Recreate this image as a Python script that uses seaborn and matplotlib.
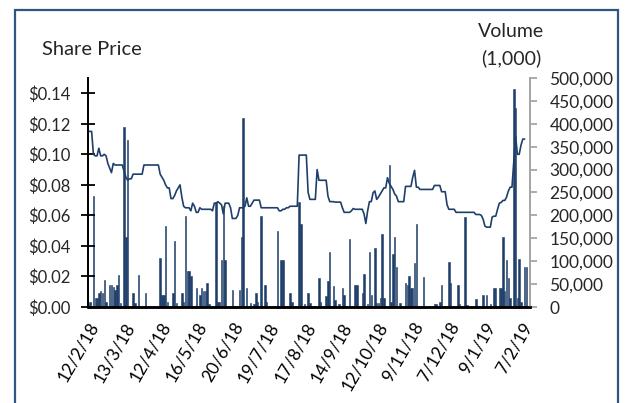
# share price and volume chart, one trading day per step on the x axis

import matplotlib
matplotlib.use('Agg')
import matplotlib.pyplot as plt
from matplotlib.patches import Rectangle
from matplotlib.ticker import FuncFormatter
import pandas as pd
import seaborn as sns

# closing share price, one value per trading day
price = [
    .115, .115, .115, .100, .099, .099, .104, .099, .099, .100,
    .099, .094, .091, .088, .094, .093, .093, .093, .093, .093,
    .089, .085, .083, .084, .084, .087, .087, .087, .087, .087,
    .087, .093, .093, .093, .093, .093, .093, .093, .093, .093,
    .087, .085, .083, .080, .078, .078, .071, .071, .073, .076,
    .078, .080, .072, .066, .065, .065, .065, .063, .068, .066,
    .062, .062, .065, .064, .064, .064, .064, .064, .064, .063,
    .068, .068, .069, .068, .067, .061, .068, .068, .068, .065,
    .058, .058, .058, .060, .065, .065, .065, .066, .0715, .066,
    .066, .068, .070, .070, .070, .070, .065, .065, .065, .065,
    .065, .065, .065, .065, .065, .065, .063, .063, .064, .064,
    .065, .065, .066, .066, .066, .066, .066, .0995, .0995, .0995,
    .0995, .0995, .075, .0705, .0705, .0705, .0705, .090, .083, .083,
    .083, .083, .083, .0726, .069, .069, .069, .0687, .0687, .0687,
    .0687, .065, .062, .062, .062, .062, .063, .0645, .064, .064,
    .064, .064, .064, .061, .0547, .063, .069, .069, .0748, .076,
    .0705, .072, .074, .076, .078, .078, .0847, .081, .079, .077,
    .074, .0726, .069, .069, .069, .069, .079, .079, .079, .079,
    .085, .0895, .0785, .0785, .077, .077, .077, .077, .077, .077,
    .077, .077, .0796, .0796, .0796, .0796, .0755, .0755, .0755, .067,
    .064, .064, .064, .064, .062, .062, .062, .062, .062, .062,
    .062, .062, .062, .062, .062, .0606, .0606, .0606, .060, .0575,
    .053, .0523, .0523, .0523, .0589, .0595, .0595, .064, .068, .0685,
    .0698, .0698, .072, .076, .0785, .0785, .095, .112, .100, .100,
    .106, .110, .110,
]

# traded volume (1,000), only the days with trades
vol_day = [
    1, 3, 4, 5, 6, 7, 8, 9, 10, 12, 13, 14, 15, 16, 17, 18, 20, 21, 22,
    25, 26, 28, 32, 40, 41, 42, 43, 44, 47, 48, 49, 52, 53, 54, 55, 56, 57,
    60, 62, 63, 64, 65, 66, 67, 71, 72, 73, 74, 75, 76, 80, 84, 85, 86,
    88, 90, 92, 93, 94, 96, 98, 99, 105, 107, 108, 112, 113, 117, 118,
    120, 122, 123, 128, 129, 132, 133, 134, 136, 137, 139, 141, 142, 145,
    148, 149, 152, 153, 155, 156, 157, 159, 160, 161, 162, 163, 164, 167,
    168, 169, 170, 171, 173, 176, 177, 178, 179, 180, 181, 182, 186, 192,
    193, 195, 196, 200, 201, 205, 206, 209, 210, 215, 219, 221, 223, 225,
    226, 228, 229, 230, 231, 232, 233, 234, 236, 237, 238, 239, 240, 242,
    243,
]
volume = [
    12000, 242000, 20000, 20000, 30000, 34000, 30000, 60000, 12000, 49000,
    49000, 44000, 38000, 48000, 69000, 9000, 393000, 152000, 365000,
    31000, 9000, 69000, 31000, 108000, 27000, 27000, 177000, 12000, 31000,
    144000, 9000, 31000, 12000, 199000, 78000, 78000, 67000,
    42000, 27000, 42000, 34000, 34000, 53000, 6000, 229000, 12000, 12000,
    102000, 221000, 102000, 38000, 38000, 152000, 412000,
    42000, 9000, 6000, 31000, 12000, 199000, 49000, 12000, 166000, 102000,
    102000, 31000, 12000, 229000, 181000,
    6000, 31000, 9000, 64000, 12000, 23000, 56000, 120000, 45000, 16000,
    6000, 42000, 27000, 148000,
    49000, 49000, 31000, 73000, 6000, 120000, 27000, 128000, 9000, 9000,
    20000, 159000, 20000, 309000,
    12000, 115000, 152000, 87000, 9000, 53000, 49000, 67000, 42000, 42000,
    95000, 181000, 65000, 6000,
    6000, 12000, 48000, 98000, 53000, 47000, 6000, 196000, 4000, 18000,
    27000, 27000, 6000, 42000,
    42000, 42000, 42000, 152000, 34000, 102000, 64000, 20000, 476000,
    434000, 20000, 105000, 12000, 87000,
    87000,
]

tick_days = [0, 20, 40, 60, 80, 100, 120, 140, 160, 180, 200, 220, 240]
tick_labels = ['12/2/18', '13/3/18', '12/4/18', '16/5/18', '20/6/18',
               '19/7/18', '17/8/18', '14/9/18', '12/10/18', '9/11/18',
               '7/12/18', '9/1/19', '7/2/19']
mark_days = [0, 100, 200]

navy = '#1f3f6b'
grey = '#a6a6a6'

sns.set_style('white')
plt.rcParams['font.family'] = ['Lato', 'DejaVu Sans']

price_df = pd.DataFrame({'day': range(len(price)), 'price': price})
vol_df = pd.DataFrame({'day': vol_day, 'volume': volume})

fig = plt.figure(figsize=(6.3, 4.03), dpi=100)
ax = fig.add_axes([0.1397, 0.2382, 0.7016, 0.5683])
ax2 = ax.twinx()

sns.lineplot(data=price_df, x='day', y='price', color=navy,
             linewidth=1.2, ax=ax)
sns.barplot(data=vol_df, x='day', y='volume', native_scale=True,
            width=0.8, color=navy, saturation=1, linewidth=0.4,
            edgecolor=navy, errorbar=None, ax=ax2)

ax.set_xlim(0, 245)
ax.set_ylim(0, 0.15)
ax2.set_ylim(0, 500000)

ax.set_xticks(tick_days)
ax.set_xticklabels(tick_labels, rotation=60, ha='right', va='top',
                   rotation_mode='anchor')
ax.set_xticks(mark_days, minor=True)
ax.tick_params(axis='x', which='major', length=0, pad=9, labelsize=12.5,
               colors='black')
ax.tick_params(axis='x', which='minor', length=9, width=1.3,
               direction='inout', color='black')

ax.set_yticks([0, 0.02, 0.04, 0.06, 0.08, 0.10, 0.12, 0.14])
ax.yaxis.set_major_formatter(FuncFormatter(lambda v, p: f'${v:.2f}'))
ax.tick_params(axis='y', length=9.5, width=1.3, direction='inout',
               pad=8, labelsize=12, color='black')

ax2.set_yticks(range(0, 500001, 50000))
ax2.yaxis.set_major_formatter(FuncFormatter(lambda v, p: f'{v:,.0f}'))
ax2.tick_params(axis='y', length=5, width=1.3, direction='out',
                pad=9, labelsize=12.5, color=grey)

for a in (ax, ax2):
    a.set_xlabel('')
    a.set_ylabel('')
    a.spines['top'].set_visible(False)
    a.patch.set_visible(False)
    a.spines['left'].set_color('black')
    a.spines['left'].set_linewidth(1.3)
    a.spines['bottom'].set_color('black')
    a.spines['bottom'].set_linewidth(1.8)
    a.spines['right'].set_color(grey)
    a.spines['right'].set_linewidth(1.3)
ax.set_zorder(ax2.get_zorder() + 1)

fig.text(0.0667, 0.876, 'Share Price', ha='left', va='center', fontsize=14.5)
fig.text(0.811, 0.923, 'Volume', ha='center', va='center', fontsize=14)
fig.text(0.811, 0.856, '(1,000)', ha='center', va='center', fontsize=14)

fig.patches.append(Rectangle((0.0235, -0.05), 0.958, 1.025,
                             transform=fig.transFigure, fill=False,
                             edgecolor='#2e5682', linewidth=1.6))

fig.savefig('out.png', dpi=100)
